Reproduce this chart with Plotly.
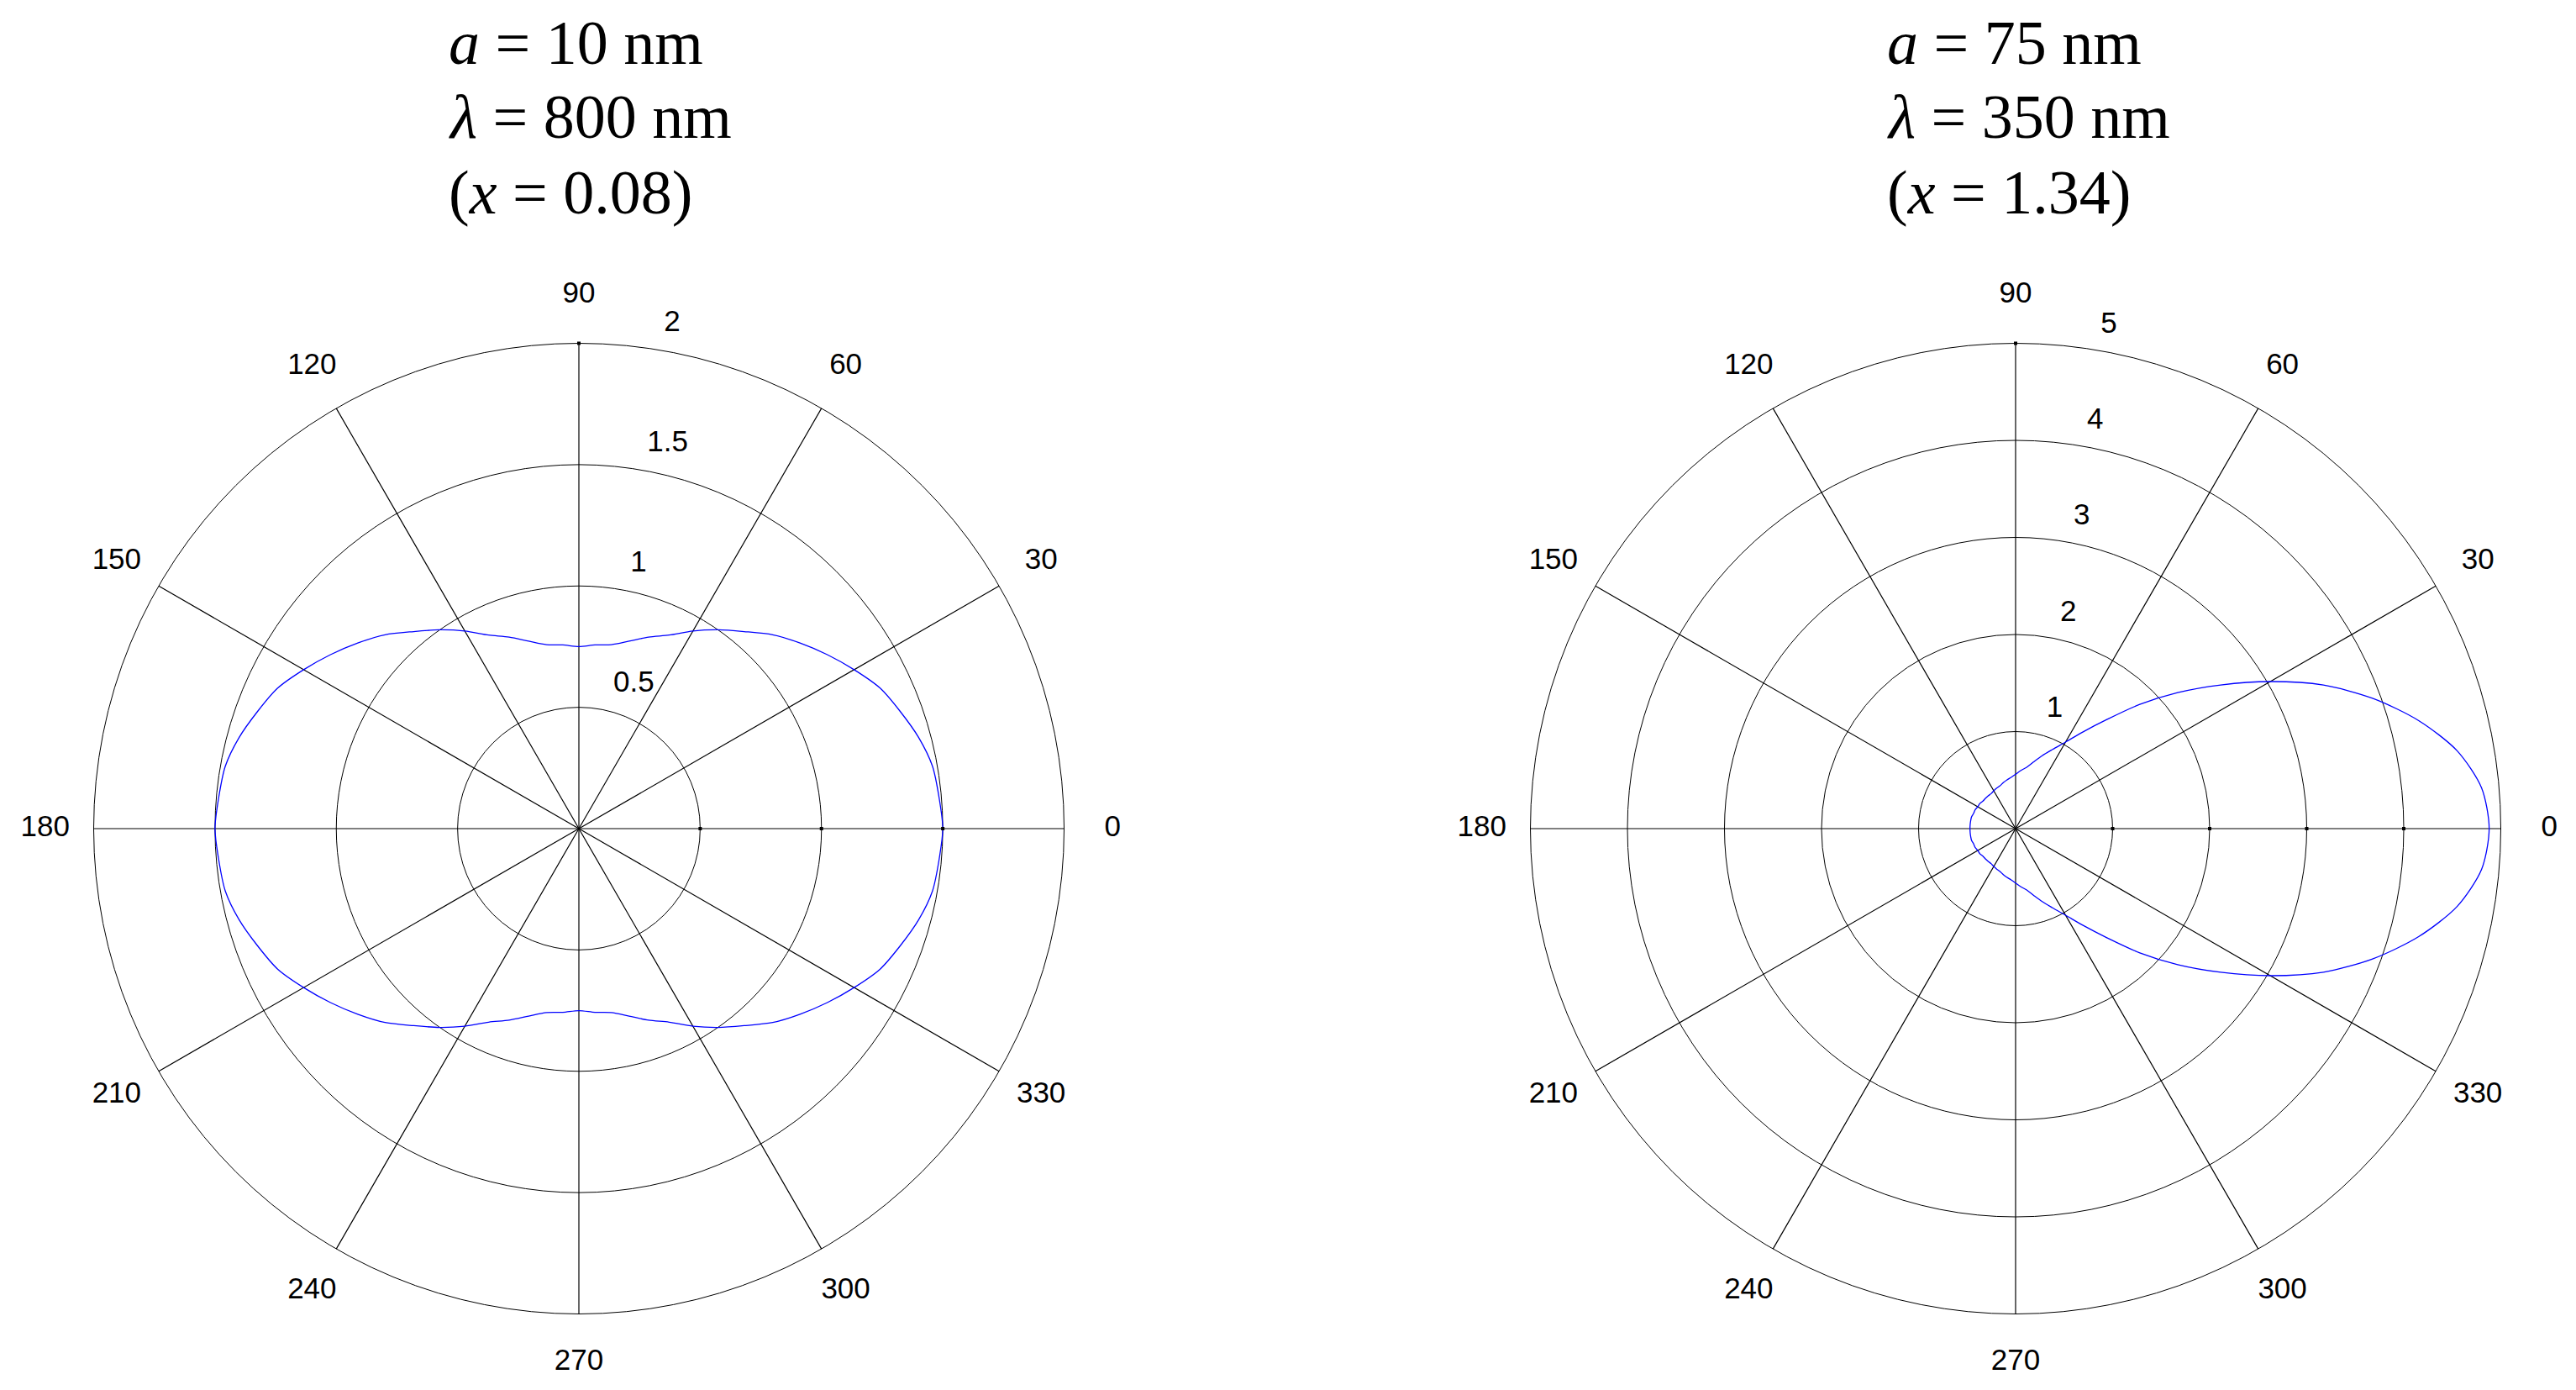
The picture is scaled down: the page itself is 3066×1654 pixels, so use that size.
import plotly.graph_objects as go

# ---------------- data ----------------
THETA_DEG = [0, 5, 10, 15, 20, 25, 30, 35, 40, 45, 50, 55, 60, 65, 70, 75, 80, 85, 90,
             95, 100, 105, 110, 115, 120, 125, 130, 135, 140, 145, 150, 155, 160, 165, 170, 175, 180,
             185, 190, 195, 200, 205, 210, 215, 220, 225, 230, 235, 240, 245, 250, 255, 260, 265, 270,
             275, 280, 285, 290, 295, 300, 305, 310, 315, 320, 325, 330, 335, 340, 345, 350, 355, 360]

# a = 10 nm, lambda = 800 nm (x = 0.08)
R_LEFT = [1.50, 1.49, 1.48, 1.45, 1.41, 1.37, 1.31, 1.25, 1.19, 1.13, 1.06, 1.00, 0.94, 0.88, 0.84, 0.80, 0.77, 0.76, 0.75,
          0.76, 0.77, 0.80, 0.84, 0.88, 0.94, 1.00, 1.06, 1.13, 1.19, 1.25, 1.31, 1.37, 1.41, 1.45, 1.48, 1.49, 1.50,
          1.49, 1.48, 1.45, 1.41, 1.37, 1.31, 1.25, 1.19, 1.13, 1.06, 1.00, 0.94, 0.88, 0.84, 0.80, 0.77, 0.76, 0.75,
          0.76, 0.77, 0.80, 0.84, 0.88, 0.94, 1.00, 1.06, 1.13, 1.19, 1.25, 1.31, 1.37, 1.41, 1.45, 1.48, 1.49, 1.50]

# a = 75 nm, lambda = 350 nm (x = 1.34)
R_RIGHT = [4.88, 4.82, 4.62, 4.30, 3.92, 3.50, 3.03, 2.58, 2.18, 1.81, 1.47, 1.22, 1.03, 0.90, 0.80, 0.71, 0.64, 0.60, 0.56,
           0.53, 0.51, 0.49, 0.47, 0.46, 0.45, 0.44, 0.44, 0.44, 0.44, 0.45, 0.45, 0.46, 0.46, 0.47, 0.47, 0.47, 0.47,
           0.47, 0.47, 0.47, 0.46, 0.46, 0.45, 0.45, 0.44, 0.44, 0.44, 0.44, 0.45, 0.46, 0.47, 0.49, 0.51, 0.53, 0.56,
           0.60, 0.64, 0.71, 0.80, 0.90, 1.03, 1.22, 1.47, 1.81, 2.18, 2.58, 3.03, 3.50, 3.92, 4.30, 4.62, 4.82, 4.88]

ANGLE_TICKS = [0, 30, 60, 90, 120, 150, 180, 210, 240, 270, 300, 330]
ANGLE_LABELS = ["0", "30", "60", "90", "120", "150", "180", "210", "240", "270", "300", "330"]

RTICKS_LEFT = [0.5, 1, 1.5, 2]
RLABELS_LEFT = ["0.5", "1", "1.5", "2"]
RTICKS_RIGHT = [1, 2, 3, 4, 5]
RLABELS_RIGHT = ["1", "2", "3", "4", "5"]

TITLE_LEFT = ["<i>a</i> = 10 nm", "<i>λ</i> = 800 nm", "(<i>x</i> = 0.08)"]
TITLE_RIGHT = ["<i>a</i> = 75 nm", "<i>λ</i> = 350 nm", "(<i>x</i> = 1.34)"]

# ---------------- figure ----------------
W, H = 3066, 1654
SANS = "Liberation Sans, Arial"
SERIF = "Liberation Serif, Times New Roman"
LABEL_SIZE = 35
R_PX = 577.5          # pixel radius of the outer (rmax) circle
RANGE_FACTOR = 1.13   # radial range extends a bit past rmax so labels fit
CY = H - 978

fig = go.Figure()


def add_panel(polar_name, r_vals, rticks, rlabels):
    rmax = rticks[-1]
    rinc = rticks[1] - rticks[0]
    px_per_unit = R_PX / rmax
    # spokes through the centre (every 30 degrees)
    for a in ANGLE_TICKS[:6]:
        fig.add_trace(go.Scatterpolar(
            r=[rmax, 0, rmax], theta=[a, a, a + 180], mode="lines",
            line=dict(color="black", width=1.2), subplot=polar_name,
            showlegend=False, hoverinfo="skip"))
    # data curve
    fig.add_trace(go.Scatterpolar(
        r=r_vals, theta=THETA_DEG, mode="lines",
        line=dict(color="#0000FF", width=1.3, shape="spline", smoothing=0.8),
        subplot=polar_name, showlegend=False, hoverinfo="skip"))
    # angular labels at 1.1 * rmax (MATLAB polar convention)
    fig.add_trace(go.Scatterpolar(
        r=[1.1 * rmax] * len(ANGLE_TICKS), theta=ANGLE_TICKS, mode="text",
        text=ANGLE_LABELS, textposition="middle center",
        textfont=dict(family=SANS, size=LABEL_SIZE, color="black"),
        cliponaxis=False, subplot=polar_name, showlegend=False, hoverinfo="skip"))
    # radial labels near 82 degrees
    off = rinc / 20 + 4 / px_per_unit
    fig.add_trace(go.Scatterpolar(
        r=[t + off for t in rticks], theta=[82] * len(rticks), mode="text",
        text=["\u00a0\u00a0" + s for s in rlabels], textposition="top right",
        textfont=dict(family=SANS, size=LABEL_SIZE, color="black"),
        cliponaxis=False, subplot=polar_name, showlegend=False, hoverinfo="skip"))
    # small tick squares on the 0-degree spoke and at the top
    fig.add_trace(go.Scatterpolar(
        r=rticks[:-1] + [rmax], theta=[0] * (len(rticks) - 1) + [90], mode="markers",
        marker=dict(symbol="square", size=4, color="black"),
        cliponaxis=False, subplot=polar_name, showlegend=False, hoverinfo="skip"))


add_panel("polar", R_LEFT, RTICKS_LEFT, RLABELS_LEFT)
add_panel("polar2", R_RIGHT, RTICKS_RIGHT, RLABELS_RIGHT)


def polar_layout(cx, rticks):
    rr = R_PX * RANGE_FACTOR
    return dict(
        domain=dict(x=[(cx - rr) / W, (cx + rr) / W], y=[(CY - rr) / H, (CY + rr) / H]),
        bgcolor="white",
        radialaxis=dict(range=[0, rticks[-1] * RANGE_FACTOR], tickvals=rticks, showticklabels=False, ticks="",
                        showline=False, showgrid=True, gridcolor="black", gridwidth=1.2),
        angularaxis=dict(tickvals=ANGLE_TICKS, showticklabels=False, ticks="", direction="counterclockwise",
                         rotation=0, showgrid=False, showline=False),
    )


annotations = []
line_y = [1 - 43 / H, 1 - 131 / H, 1 - 221 / H]
for x0, lines in ((524 / W, TITLE_LEFT), (2236 / W, TITLE_RIGHT)):
    for yy, txt in zip(line_y, lines):
        annotations.append(dict(text=txt, x=x0, y=yy, xref="paper", yref="paper",
                                xanchor="left", yanchor="middle", showarrow=False,
                                font=dict(family=SERIF, size=74, color="black")))

fig.update_layout(
    width=W, height=H, autosize=False,
    margin=dict(l=0, r=0, t=0, b=0),
    paper_bgcolor="white", plot_bgcolor="white",
    polar=polar_layout(681, RTICKS_LEFT),
    polar2=polar_layout(2391, RTICKS_RIGHT),
    annotations=annotations,
    showlegend=False,
)

fig.write_html("out.html")
